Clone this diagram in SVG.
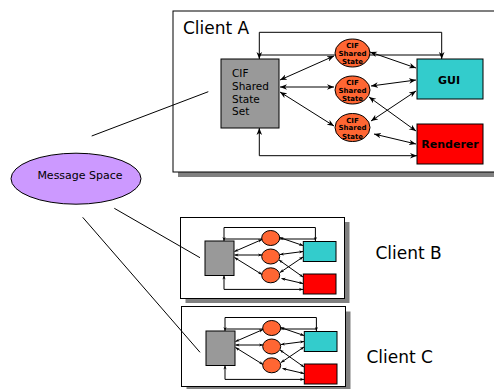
<svg xmlns="http://www.w3.org/2000/svg" width="494" height="389" viewBox="0 0 494 389">
<style>
text{font-family:"DejaVu Sans","Liberation Sans",sans-serif;fill:#000}
.frame{fill:#fff;stroke:#000;stroke-width:1}
.shadow{fill:#808080}
.store{fill:#999;stroke:#000;stroke-width:1}
.state{fill:#FF6633;stroke:#000;stroke-width:1}
.gui{fill:#33CCCC;stroke:#000;stroke-width:1}
.rend{fill:#FF0000;stroke:#000;stroke-width:1}
.msg{fill:#CC99FF;stroke:#000;stroke-width:1}
.c{fill:none;stroke:#000;stroke-width:1}
.a{marker-start:url(#ah);marker-end:url(#ah)}
.sa{marker-start:url(#sh);marker-end:url(#sh)}
.title{font-size:17px}
.lbl{font-size:10.5px}
.st{font-size:7px;font-weight:bold;text-anchor:middle}
.bt{font-size:11px;font-weight:bold;text-anchor:middle}
</style>
<defs>
<marker id="ah" viewBox="0 0 10 10" refX="10" refY="5" markerWidth="7" markerHeight="7" orient="auto-start-reverse" markerUnits="userSpaceOnUse">
<path d="M0,1 L10,5 L0,9 L3,5 Z" fill="#000"/>
</marker>
<marker id="sh" viewBox="0 0 10 10" refX="10" refY="5" markerWidth="4" markerHeight="4" orient="auto-start-reverse" markerUnits="userSpaceOnUse">
<path d="M0,1 L10,5 L0,9 L3,5 Z" fill="#000"/>
</marker>
</defs>

<!-- Frames -->
<g id="clientA">
<rect class="shadow" x="178" y="16" width="330" height="161"/>
<rect class="frame" x="173" y="11" width="330" height="161"/>
<text class="title" x="183" y="33.5">Client A</text>
</g>
<g id="clientB">
<rect class="shadow" x="185.5" y="222" width="164" height="81"/>
<rect class="frame" x="180.5" y="217.5" width="164" height="81"/>
<text class="title" x="375.5" y="259">Client B</text>
</g>
<g id="clientC">
<rect class="shadow" x="186.5" y="311.5" width="164" height="80"/>
<rect class="frame" x="181.5" y="306.5" width="164" height="80"/>
<text class="title" x="366.5" y="362.5">Client C</text>
</g>

<!-- Connectors -->
<g id="connectors">
<line class="c" x1="91.7" y1="136" x2="208.3" y2="91.7"/>
<line class="c" x1="114.3" y1="208.3" x2="200" y2="257.7"/>
<line class="c" x1="82.7" y1="217.3" x2="200" y2="352.3"/>

<path class="c a" d="M259.3,59 V32.3 H441.7 V59"/>
<line class="c" x1="259.3" y1="55" x2="441.7" y2="55"/>
<path class="c a" d="M259.3,128 V155.7 H417"/>
<line class="c a" x1="280" y1="80" x2="334" y2="56"/>
<line class="c a" x1="280" y1="87" x2="334" y2="87"/>
<line class="c a" x1="280" y1="92" x2="334" y2="126"/>
<line class="c a" x1="370" y1="52" x2="416" y2="68"/>
<line class="c a" x1="371" y1="86" x2="416" y2="80"/>
<line class="c a" x1="371" y1="121" x2="416" y2="91"/>
<line class="c a" x1="369" y1="97" x2="416" y2="131"/>
<line class="c a" x1="374" y1="134" x2="416" y2="144"/>

<g id="connB">
<path class="c sa" d="M224,241 V227.5 H315.4 V241"/>
<line class="c" x1="224" y1="239" x2="315.4" y2="239"/>
<path class="c sa" d="M224,275.5 V289.4 H303"/>
<line class="c sa" x1="234.5" y1="251.5" x2="262" y2="239.5"/>
<line class="c sa" x1="234.5" y1="255" x2="262" y2="255"/>
<line class="c sa" x1="234.5" y1="257.5" x2="262" y2="274.5"/>
<line class="c sa" x1="279.5" y1="237.5" x2="303" y2="245.5"/>
<line class="c sa" x1="280" y1="254.5" x2="303" y2="251.5"/>
<line class="c sa" x1="280" y1="272.5" x2="303" y2="257"/>
<line class="c sa" x1="279" y1="260" x2="303" y2="277"/>
<line class="c sa" x1="281.5" y1="278.5" x2="303" y2="283.5"/>
</g>
<g id="connC" transform="translate(1,90)">
<path class="c sa" d="M224,241 V227.5 H315.4 V241"/>
<line class="c" x1="224" y1="239" x2="315.4" y2="239"/>
<path class="c sa" d="M224,275.5 V289.4 H303"/>
<line class="c sa" x1="234.5" y1="251.5" x2="262" y2="239.5"/>
<line class="c sa" x1="234.5" y1="255" x2="262" y2="255"/>
<line class="c sa" x1="234.5" y1="257.5" x2="262" y2="274.5"/>
<line class="c sa" x1="279.5" y1="237.5" x2="303" y2="245.5"/>
<line class="c sa" x1="280" y1="254.5" x2="303" y2="251.5"/>
<line class="c sa" x1="280" y1="272.5" x2="303" y2="257"/>
<line class="c sa" x1="279" y1="260" x2="303" y2="277"/>
<line class="c sa" x1="281.5" y1="278.5" x2="303" y2="283.5"/>
</g>
</g>

<!-- Message space -->
<g id="messageSpace">
<ellipse class="msg" cx="76" cy="178.7" rx="65" ry="25.5"/>
<text x="80" y="179" font-size="11" text-anchor="middle">Message Space</text>
</g>

<!-- Client A nodes -->
<g id="A-store">
<rect class="store" x="221" y="59" width="58" height="69"/>
<text class="lbl" x="232" y="77">CIF</text>
<text class="lbl" x="232" y="90">Shared</text>
<text class="lbl" x="232" y="102.5">State</text>
<text class="lbl" x="232" y="115">Set</text>
</g>
<g id="A-state1">
<ellipse class="state" cx="352.5" cy="53" rx="17.5" ry="14"/>
<text class="st" x="352.5" y="48">CIF</text>
<text class="st" x="352.5" y="55.5">Shared</text>
<text class="st" x="352.5" y="64">State</text>
</g>
<g id="A-state2">
<ellipse class="state" cx="352.5" cy="90" rx="17.5" ry="14"/>
<text class="st" x="352.5" y="85">CIF</text>
<text class="st" x="352.5" y="92.5">Shared</text>
<text class="st" x="352.5" y="101">State</text>
</g>
<g id="A-state3">
<ellipse class="state" cx="352.5" cy="127.5" rx="17.5" ry="14"/>
<text class="st" x="352.5" y="122.5">CIF</text>
<text class="st" x="352.5" y="130">Shared</text>
<text class="st" x="352.5" y="138.5">State</text>
</g>
<g id="A-gui">
<rect class="gui" x="417" y="59" width="66" height="40"/>
<text class="bt" x="449" y="84">GUI</text>
</g>
<g id="A-renderer">
<rect class="rend" x="417" y="124" width="66" height="40"/>
<text class="bt" x="450" y="148">Renderer</text>
</g>

<!-- Client B nodes -->
<g id="B-store"><rect class="store" x="205" y="241" width="29" height="34.5"/></g>
<g id="B-state1"><ellipse class="state" cx="270.7" cy="238" rx="9" ry="7.5"/></g>
<g id="B-state2"><ellipse class="state" cx="270.7" cy="256.5" rx="9" ry="7.5"/></g>
<g id="B-state3"><ellipse class="state" cx="270.7" cy="275.3" rx="9" ry="7.5"/></g>
<g id="B-gui"><rect class="gui" x="303.3" y="241.5" width="32.7" height="20"/></g>
<g id="B-renderer"><rect class="rend" x="303.3" y="274" width="32.7" height="20"/></g>

<!-- Client C nodes -->
<g id="C-store"><rect class="store" x="206" y="331" width="29" height="34.5"/></g>
<g id="C-state1"><ellipse class="state" cx="271.7" cy="328" rx="9" ry="7.5"/></g>
<g id="C-state2"><ellipse class="state" cx="271.7" cy="346.5" rx="9" ry="7.5"/></g>
<g id="C-state3"><ellipse class="state" cx="271.7" cy="365.3" rx="9" ry="7.5"/></g>
<g id="C-gui"><rect class="gui" x="304.3" y="331.5" width="32.7" height="20"/></g>
<g id="C-renderer"><rect class="rend" x="304.3" y="364" width="32.7" height="20"/></g>
</svg>
